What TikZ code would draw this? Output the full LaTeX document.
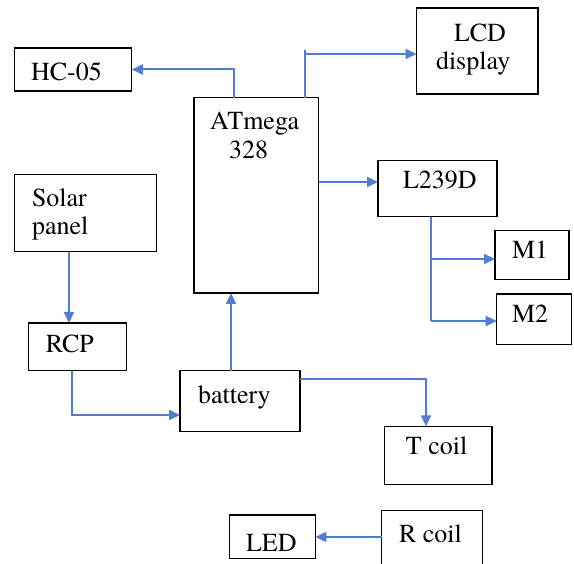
\documentclass[tikz,border=0pt]{standalone}
\usepackage{fontspec}
\newfontfamily\diagserif{TeX Gyre Termes}
\usetikzlibrary{arrows.meta}
\definecolor{linkblue}{HTML}{4F7ED0}
\begin{document}
\begin{tikzpicture}[x=1pt,y=-1pt,
  box/.style={draw=black,line width=1.3pt,rectangle,inner sep=0pt,outer sep=0pt},
  lbl/.style={anchor=base west,inner sep=0pt,outer sep=0pt,font=\diagserif\fontsize{26}{28}\selectfont},
  conn/.style={draw=linkblue,line width=2pt},
  arr/.style={conn,-{Triangle[length=11pt,width=10pt]}}]
\useasboundingbox (0,0) rectangle (574,564);
% boxes
\node[box,minimum width=117.2pt,minimum height=43pt] (hc) at (73.2,69.5) {};
\node[box,minimum width=121.5pt,minimum height=86pt] (lcd) at (477.25,51) {};
\node[box,minimum width=124.7pt,minimum height=195.3pt] (atm) at (256.35,195.35) {};
\node[box,minimum width=119pt,minimum height=56pt] (l239) at (437.5,188.7) {};
\node[box,minimum width=141.8pt,minimum height=77.4pt] (solar) at (85.5,213) {};
\node[box,minimum width=74pt,minimum height=48.6pt] (m1) at (532,255) {};
\node[box,minimum width=74.8pt,minimum height=50.3pt] (m2) at (534.1,319.15) {};
\node[box,minimum width=97.8pt,minimum height=47.7pt] (rcp) at (77.5,346.85) {};
\node[box,minimum width=120pt,minimum height=61pt] (bat) at (240,401.2) {};
\node[box,minimum width=107.4pt,minimum height=58.4pt] (tcoil) at (438.3,455.5) {};
\node[box,minimum width=101.1pt,minimum height=55.7pt] (rcoil) at (432.25,538.15) {};
\node[box,minimum width=85.7pt,minimum height=43.3pt] (led) at (272.55,536.65) {};
% texts
\node[lbl] (hct) at (31,80.7) {HC-05};
\node[lbl] (lcdt1) at (454,41.7) {LCD};
\node[lbl] (lcdt2) at (436,70) {display};
\node[lbl] (atmt1) at (210,130) {ATmega};
\node[lbl] (atmt2) at (229,159) {328};
\node[lbl] (l239t) at (403,189) {L239D};
\node[lbl] (solart1) at (32,206.7) {Solar};
\node[lbl] (solart2) at (32,235) {panel};
\node[lbl] (rcpt) at (45.8,352.7) {RCP};
\node[lbl] (m1t) at (512,259) {M1};
\node[lbl] (m2t) at (512,322.7) {M2};
\node[lbl] (batt) at (198,403.3) {battery};
\node[lbl] (tcoilt) at (405.9,455) {T coil};
\node[lbl] (rcoilt) at (399,542.7) {R coil};
\node[lbl] (ledt) at (246,551.7) {LED};
% helper coordinates
\coordinate (lcdtick) at (305,50);
\coordinate (lcdrow) at (305,54);
\coordinate (rowL) at (0,182);
\coordinate (m1row) at (431,259);
\coordinate (busEnd) at (431,321);
\coordinate (scol) at (69,0);
\coordinate (rcorner) at (72,415);
\coordinate (bcol) at (231,0);
\coordinate (tcorner) at (426,379);
\coordinate (lrow) at (0,537);
% connectors
\draw[arr] ([xshift=-22.35pt]atm.north) |- (hc.east);
\draw[conn] (atm.north -| lcdtick) -- (lcdtick);
\draw[arr] (lcdrow) -- (lcdrow -| lcd.west);
\draw[arr] (atm.east |- rowL) -- (l239.west |- rowL);
\draw[conn] (l239.south -| busEnd) -- (busEnd);
\draw[arr] (m1row) -- (m1row -| m1.west);
\draw[arr] (busEnd) -- (busEnd -| m2.west);
\draw[arr] (solar.south -| scol) -- (rcp.north -| scol);
\draw[arr] (rcp.south -| rcorner) |- (bat.west |- rcorner);
\draw[arr] (bat.north -| bcol) -- (atm.south -| bcol);
\draw[arr] (bat.east |- tcorner) -| (tcoil.north -| tcorner);
\draw[arr] (rcoil.west |- lrow) -- (led.east |- lrow);
\end{tikzpicture}
\end{document}
